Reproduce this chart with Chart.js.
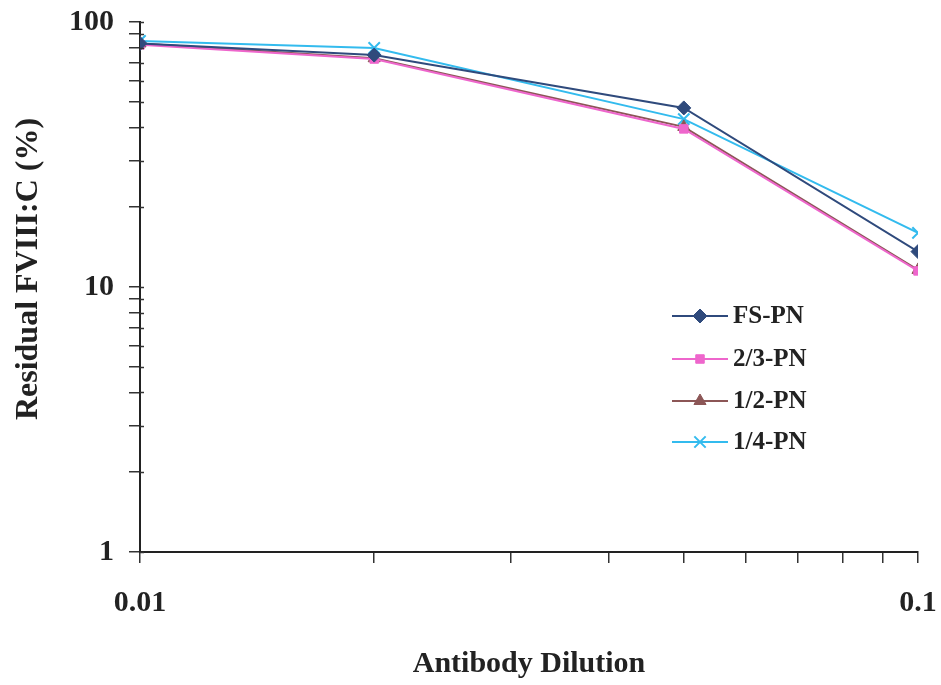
<!DOCTYPE html>
<html>
<head>
<meta charset="utf-8">
<script src="https://cdn.jsdelivr.net/npm/chart.js@4.4.1/dist/chart.umd.min.js"></script>
<style>
  html, body { margin: 0; padding: 0; background: #fff; }
  #wrap { width: 941px; height: 685px; }
</style>
</head>
<body>
<div id="wrap"><canvas id="chart" width="941" height="685"></canvas></div>
<script>
// ================= DATA =================
const dilutions = [0.01, 0.02, 0.05, 0.1];
const seriesNames = ["FS-PN", "2/3-PN", "1/2-PN", "1/4-PN"];
const fsPN = [83, 75, 47.4, 13.6];
const twoThirdsPN = [82, 72.5, 39.5, 11.5];
const halfPN = [83, 73, 40.2, 11.6];
const quarterPN = [84.8, 79.8, 43, 16];
const xTicks = [0.01, 0.02, 0.03, 0.04, 0.05, 0.06, 0.07, 0.08, 0.09, 0.1];
const xTickLabels = [0.01, 0.1];
const yTicks = [1, 2, 3, 4, 5, 6, 7, 8, 9, 10, 20, 30, 40, 50, 60, 70, 80, 90, 100];
const yTickLabels = [1, 10, 100];

const FONT = "'Liberation Serif', 'Times New Roman', serif";
const TEXT = "#222";

function points(values) {
    return dilutions.map((d, i) => ({ x: d, y: values[i] }));
}

function series(label, values, color, style, radius) {
    return {
        label,
        data: points(values),
        borderColor: color,
        backgroundColor: color,
        borderWidth: 2,
        pointStyle: style,
        pointRadius: radius,
        pointHoverRadius: radius,
        pointBorderColor: color,
        pointBackgroundColor: color,
        pointBorderWidth: style === "crossRot" ? 2 : 1,
        tension: 0
    };
}

function isLabel(list, v) {
    return list.some(t => Math.abs(t - v) < 1e-9);
}

// labels may hang over the plot edges; the layout padding handles that
function noOverflow(s) {
    s.paddingLeft = 0;
    s.paddingRight = 0;
    s.paddingTop = 0;
    s.paddingBottom = 0;
}

// ================= LEGEND, Y TITLE, INNER TICKS =================
const extrasPlugin = {
    id: "extras",
    afterDraw(chart) {
        const ctx = chart.ctx;
        const area = chart.chartArea;
        const yScale = chart.scales.y;

        // short inner tick marks on the y axis
        ctx.save();
        ctx.strokeStyle = "#333";
        ctx.lineWidth = 1.5;
        yTicks.forEach(v => {
            const py = Math.round(yScale.getPixelForValue(v)) + 0.5;
            ctx.beginPath();
            ctx.moveTo(area.left, py);
            ctx.lineTo(area.left + 4, py);
            ctx.stroke();
        });
        ctx.restore();

        // y axis title
        ctx.save();
        ctx.translate(29, area.top + 247);
        ctx.rotate(-Math.PI / 2);
        ctx.font = "bold 32px " + FONT;
        ctx.fillStyle = TEXT;
        ctx.textAlign = "center";
        ctx.textBaseline = "middle";
        ctx.fillText("Residual FVIII:C (%)", 0, 0);
        ctx.restore();

        // legend inside the plot
        const x0 = area.left + 532;
        const rowY = [316, 359, 401, 442];
        chart.data.datasets.forEach((ds, i) => {
            const y = rowY[i];
            ctx.save();
            ctx.strokeStyle = ds.borderColor;
            ctx.lineWidth = 2;
            ctx.beginPath();
            ctx.moveTo(x0, y);
            ctx.lineTo(x0 + 56, y);
            ctx.stroke();
            ctx.fillStyle = ds.pointBackgroundColor;
            ctx.strokeStyle = ds.pointBorderColor;
            ctx.lineWidth = ds.pointBorderWidth;
            Chart.helpers.drawPoint(ctx, {
                pointStyle: ds.pointStyle,
                radius: ds.pointRadius,
                rotation: 0,
                borderWidth: ds.pointBorderWidth
            }, x0 + 28, y);
            ctx.font = "bold 25px " + FONT;
            ctx.fillStyle = TEXT;
            ctx.textAlign = "left";
            ctx.textBaseline = "middle";
            ctx.fillText(ds.label, x0 + 61, y + 1);
            ctx.restore();
        });
    }
};

// ================= CHART =================
new Chart(document.getElementById("chart"), {
    type: "line",
    data: {
        datasets: [
            series(seriesNames[0], fsPN, "#2f4a7c", "rectRot", 7),
            series(seriesNames[1], twoThirdsPN, "#ee66cc", "rect", 6),
            series(seriesNames[2], halfPN, "#8c5656", "triangle", 7),
            series(seriesNames[3], quarterPN, "#33bbee", "crossRot", 8)
        ]
    },
    options: {
        responsive: false,
        animation: false,
        layout: { padding: { left: 0, right: 23, top: 22, bottom: 0 } },
        plugins: {
            legend: { display: false },
            tooltip: { enabled: false }
        },
        scales: {
            x: {
                type: "logarithmic",
                min: 0.01,
                max: 0.1,
                afterBuildTicks: s => { s.ticks = xTicks.map(v => ({ value: v, major: isLabel(xTickLabels, v) })); },
                afterFit: s => { s.height = 133; noOverflow(s); },
                border: { color: TEXT, width: 2 },
                grid: { drawOnChartArea: false, tickLength: 11, color: "#333", lineWidth: 1.5 },
                ticks: {
                    autoSkip: false,
                    maxRotation: 0,
                    padding: 22,
                    color: TEXT,
                    font: { family: FONT, size: 30, weight: "bold" },
                    callback: v => isLabel(xTickLabels, v) ? String(v) : ""
                },
                title: {
                    display: true,
                    text: "Antibody Dilution",
                    color: TEXT,
                    font: { family: FONT, size: 30, weight: "bold" },
                    padding: { top: 0, bottom: 3 }
                }
            },
            y: {
                type: "logarithmic",
                min: 1,
                max: 100,
                afterBuildTicks: s => { s.ticks = yTicks.map(v => ({ value: v, major: isLabel(yTickLabels, v) })); },
                afterFit: s => { s.width = 140; noOverflow(s); },
                border: { color: TEXT, width: 2 },
                grid: { drawOnChartArea: false, tickLength: 11, color: "#333", lineWidth: 1.5 },
                ticks: {
                    autoSkip: false,
                    padding: 15,
                    color: TEXT,
                    font: { family: FONT, size: 30, weight: "bold" },
                    callback: v => isLabel(yTickLabels, v) ? String(v) : ""
                }
            }
        }
    },
    plugins: [extrasPlugin]
});
</script>
</body>
</html>
